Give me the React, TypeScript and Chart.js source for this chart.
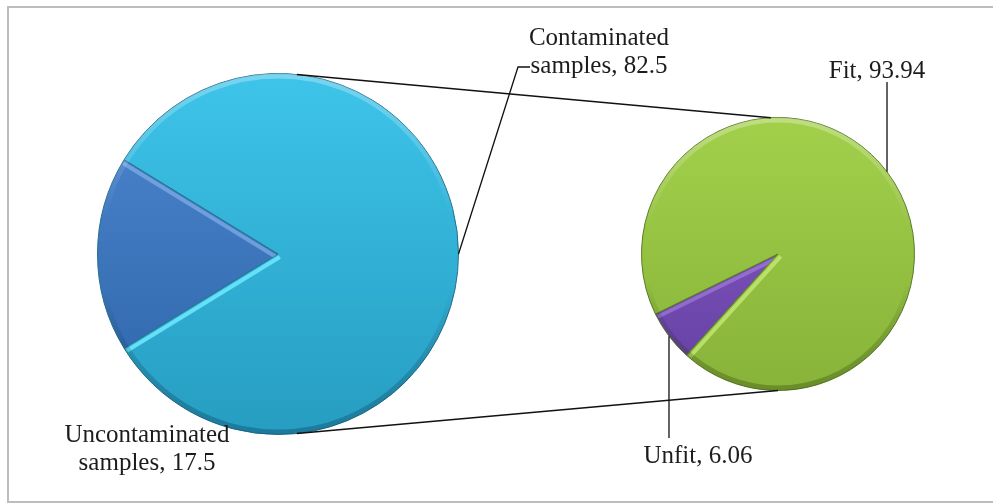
import { useEffect, useRef } from "react";
import { Chart, registerables } from "chart.js";

Chart.register(...registerables);

// Share of samples by contamination status
const sampleCategories = ["Uncontaminated samples", "Contaminated samples"];
const sampleValues = [17.5, 82.5];

// Breakdown of the contaminated samples
const fitnessCategories = ["Unfit", "Fit"];
const fitnessValues = [6.06, 93.94];

const W = 993;
const H = 504;
const FONT = '25px "Liberation Serif", "Times New Roman", serif';
const LINE_H = 28;

// slice fills as [top, bottom] gradient stops
const sampleFills = [
  ["#4f88d2", "#2c63a6"],
  ["#3ec4ea", "#269dc1"],
];
const sampleBevel = ["rgba(140,185,240,0.6)", "rgba(105,225,250,0.95)"];
const fitnessFills = [
  ["#8a5bc9", "#6440a2"],
  ["#a3d04b", "#87b339"],
];
const fitnessBevel = ["rgba(185,150,235,0.45)", "rgba(196,232,118,0.8)"];

// direction (canvas degrees) the first slice of each pie points to
const sampleFirstSliceDir = 180;
const fitnessFirstSliceDir = 143;

const rotationFor = (values: number[], dir: number) => {
  const total = values.reduce((a, b) => a + b, 0);
  const span = (values[0] / total) * 360;
  return dir + 90 - span / 2;
};

const labelLines = (name: string, value: number) => {
  const words = name.split(" ");
  if (words.length > 1) {
    return [words.slice(0, -1).join(" "), `${words[words.length - 1]}, ${value}`];
  }
  return [`${name}, ${value}`];
};

// label anchor (centre x, first baseline y)
const sampleLabelAt = [
  { x: 147, y: 442 },
  { x: 599, y: 45 },
];
const fitnessLabelAt = [
  { x: 698, y: 463 },
  { x: 877, y: 78 },
];

function gradientFill(fills: string[][]) {
  return (ctx: any) => {
    const chart = ctx.chart;
    const area = chart.chartArea;
    const pair = fills[ctx.dataIndex] || fills[0];
    if (!area) return pair[0];
    const g = chart.ctx.createLinearGradient(0, area.top, 0, area.bottom);
    g.addColorStop(0, pair[0]);
    g.addColorStop(1, pair[1]);
    return g;
  };
}

function drawBevel(chart: any, bevel: string[], rimDark: string) {
  const meta = chart.getDatasetMeta(0);
  const ctx: CanvasRenderingContext2D = chart.ctx;
  meta.data.forEach((arc: any, i: number) => {
    const { x, y, startAngle, endAngle, outerRadius } = arc;
    ctx.save();
    ctx.beginPath();
    ctx.moveTo(x, y);
    ctx.arc(x, y, outerRadius - 1, startAngle, endAngle);
    ctx.closePath();
    ctx.clip();
    const dx = Math.cos(endAngle);
    const dy = Math.sin(endAngle);
    const px = Math.sin(endAngle) * 3.5;
    const py = -Math.cos(endAngle) * 3.5;
    ctx.strokeStyle = bevel[i];
    ctx.lineWidth = 4;
    ctx.beginPath();
    ctx.moveTo(x + px, y + py);
    ctx.lineTo(x + px + dx * outerRadius * 1.1, y + py + dy * outerRadius * 1.1);
    ctx.stroke();
    ctx.restore();
  });
  const a = meta.data[0];
  ctx.save();
  ctx.beginPath();
  ctx.arc(a.x, a.y, a.outerRadius, 0, Math.PI * 2);
  ctx.clip();
  const g = ctx.createLinearGradient(0, a.y - a.outerRadius, 0, a.y + a.outerRadius);
  g.addColorStop(0, "rgba(255,255,255,0.3)");
  g.addColorStop(0.4, "rgba(255,255,255,0)");
  g.addColorStop(0.6, "rgba(0,0,0,0)");
  g.addColorStop(1, rimDark);
  ctx.strokeStyle = g;
  ctx.lineWidth = 6;
  ctx.beginPath();
  ctx.arc(a.x, a.y, a.outerRadius - 2, 0, Math.PI * 2);
  ctx.stroke();
  ctx.restore();
}

const midPoint = (arc: any) => {
  const m = (arc.startAngle + arc.endAngle) / 2;
  return { x: arc.x + Math.cos(m) * arc.outerRadius, y: arc.y + Math.sin(m) * arc.outerRadius };
};

const edgePoint = (arc: any, deg: number) => {
  const r = (deg * Math.PI) / 180;
  return { x: arc.x + Math.cos(r) * arc.outerRadius, y: arc.y + Math.sin(r) * arc.outerRadius };
};

function drawLabels(
  ctx: CanvasRenderingContext2D,
  names: string[],
  values: number[],
  at: { x: number; y: number }[]
) {
  ctx.save();
  ctx.font = FONT;
  ctx.fillStyle = "#1c1c1c";
  ctx.textAlign = "center";
  ctx.textBaseline = "alphabetic";
  names.forEach((n, i) => {
    labelLines(n, values[i]).forEach((line, k) => {
      ctx.fillText(line, at[i].x, at[i].y + k * LINE_H);
    });
  });
  ctx.restore();
}

function drawOverlay(right: any, left: any) {
  const ctx: CanvasRenderingContext2D = right.ctx;
  const L = left.getDatasetMeta(0).data;
  const R = right.getDatasetMeta(0).data;
  ctx.save();
  ctx.strokeStyle = "#111";
  ctx.lineWidth = 1.6;

  // connectors between the two pies
  const lt = edgePoint(L[0], -84);
  const lb = edgePoint(L[0], 84);
  const rt = edgePoint(R[0], -93);
  const rb = edgePoint(R[0], 90);
  ctx.beginPath();
  ctx.moveTo(lt.x, lt.y);
  ctx.lineTo(rt.x, rt.y);
  ctx.moveTo(lb.x, lb.y);
  ctx.lineTo(rb.x, rb.y);
  ctx.stroke();

  // leader lines
  ctx.lineWidth = 1.3;
  const c = midPoint(L[1]);
  ctx.beginPath();
  ctx.moveTo(c.x, c.y);
  ctx.lineTo(518, 67);
  ctx.lineTo(530, 67);
  const u = midPoint(R[0]);
  ctx.moveTo(u.x, u.y);
  ctx.lineTo(u.x, 438);
  const f = midPoint(R[1]);
  ctx.moveTo(f.x, f.y);
  ctx.lineTo(f.x, 82);
  ctx.stroke();
  ctx.restore();

  drawLabels(ctx, sampleCategories, sampleValues, sampleLabelAt);
  drawLabels(ctx, fitnessCategories, fitnessValues, fitnessLabelAt);
}

export default function App() {
  const leftRef = useRef<HTMLCanvasElement>(null);
  const rightRef = useRef<HTMLCanvasElement>(null);

  useEffect(() => {
    const common = {
      responsive: false,
      animation: false as const,
      events: [] as any[],
      plugins: { legend: { display: false }, tooltip: { enabled: false } },
    };

    const left = new Chart(leftRef.current!, {
      type: "pie",
      data: {
        labels: sampleCategories,
        datasets: [
          {
            data: sampleValues,
            backgroundColor: gradientFill(sampleFills),
            borderColor: "#24708f",
            borderWidth: 1,
          },
        ],
      },
      options: {
        ...common,
        rotation: rotationFor(sampleValues, sampleFirstSliceDir),
        layout: { padding: { left: 97, top: 73, right: 534, bottom: 69 } },
      } as any,
      plugins: [
        {
          id: "bevel",
          afterDatasetsDraw: (c: any) => drawBevel(c, sampleBevel, "rgba(10,60,90,0.35)"),
        },
      ],
    });

    const right = new Chart(rightRef.current!, {
      type: "pie",
      data: {
        labels: fitnessCategories,
        datasets: [
          {
            data: fitnessValues,
            backgroundColor: gradientFill(fitnessFills),
            borderColor: "#5a7a26",
            borderWidth: 1,
          },
        ],
      },
      options: {
        ...common,
        rotation: rotationFor(fitnessValues, fitnessFirstSliceDir),
        layout: { padding: { left: 641, top: 117, right: 78, bottom: 113 } },
      } as any,
      plugins: [
        {
          id: "bevel",
          afterDatasetsDraw: (c: any) => drawBevel(c, fitnessBevel, "rgba(50,70,10,0.35)"),
        },
        {
          id: "overlay",
          afterDraw: (c: any) => drawOverlay(c, left),
        },
      ],
    });

    return () => {
      right.destroy();
      left.destroy();
    };
  }, []);

  return (
    <div
      style={{
        position: "absolute",
        left: 0,
        top: 0,
        width: W,
        height: H,
        background: "#fff",
        overflow: "hidden",
      }}
    >
      <div
        style={{
          position: "absolute",
          left: 7,
          top: 6,
          width: 1100,
          height: 497,
          border: "2px solid #bdbdbd",
          boxSizing: "border-box",
        }}
      />
      <canvas ref={leftRef} width={W} height={H} style={{ position: "absolute", left: 0, top: 0 }} />
      <canvas ref={rightRef} width={W} height={H} style={{ position: "absolute", left: 0, top: 0 }} />
    </div>
  );
}
